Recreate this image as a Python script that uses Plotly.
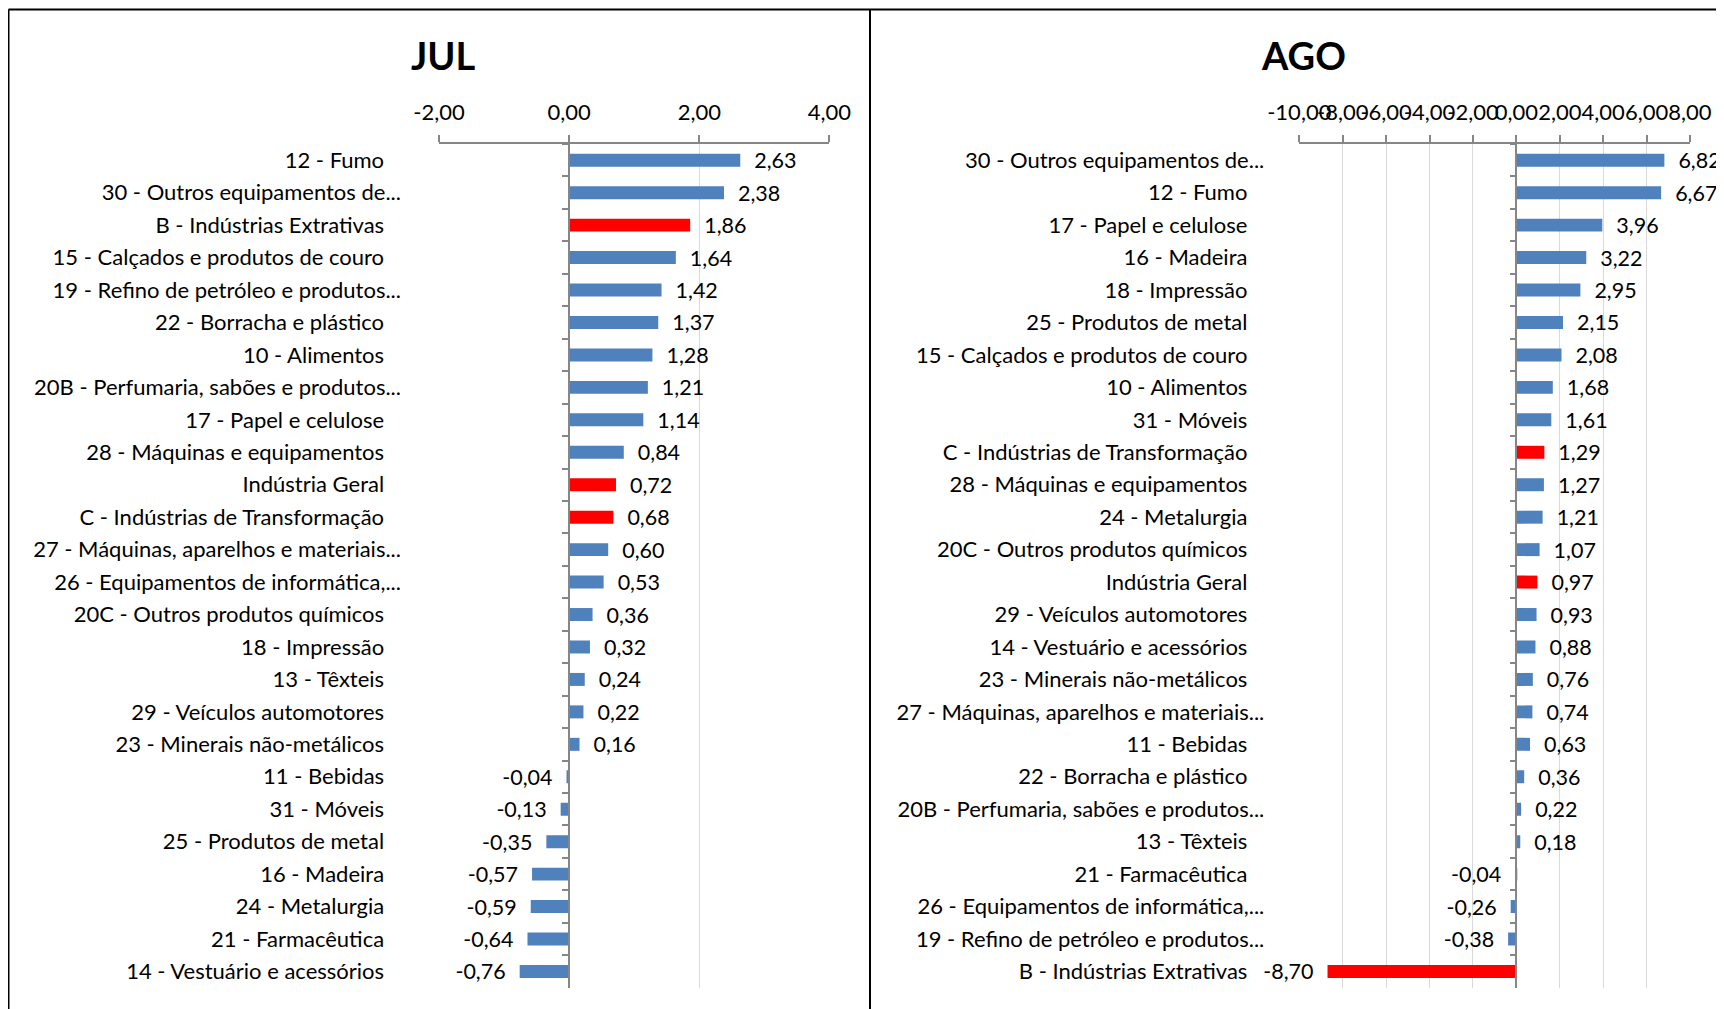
import plotly.graph_objects as go

# ---------------- data ----------------
jul_categories = [
    "12 - Fumo",
    "30 - Outros equipamentos de...",
    "B - Indústrias Extrativas",
    "15 - Calçados e produtos de couro",
    "19 - Refino de petróleo e produtos...",
    "22 - Borracha e plástico",
    "10 - Alimentos",
    "20B - Perfumaria, sabões e produtos...",
    "17 - Papel e celulose",
    "28 - Máquinas e equipamentos",
    "Indústria Geral",
    "C - Indústrias de Transformação",
    "27 - Máquinas, aparelhos e materiais...",
    "26 - Equipamentos de informática,...",
    "20C - Outros produtos químicos",
    "18 - Impressão",
    "13 - Têxteis",
    "29 - Veículos automotores",
    "23 - Minerais não-metálicos",
    "11 - Bebidas",
    "31 - Móveis",
    "25 - Produtos de metal",
    "16 - Madeira",
    "24 - Metalurgia",
    "21 - Farmacêutica",
    "14 - Vestuário e acessórios",
]
jul_values = [2.63, 2.38, 1.86, 1.64, 1.42, 1.37, 1.28, 1.21, 1.14, 0.84, 0.72, 0.68,
              0.60, 0.53, 0.36, 0.32, 0.24, 0.22, 0.16, -0.04, -0.13, -0.35, -0.57,
              -0.59, -0.64, -0.76]

ago_categories = [
    "30 - Outros equipamentos de...",
    "12 - Fumo",
    "17 - Papel e celulose",
    "16 - Madeira",
    "18 - Impressão",
    "25 - Produtos de metal",
    "15 - Calçados e produtos de couro",
    "10 - Alimentos",
    "31 - Móveis",
    "C - Indústrias de Transformação",
    "28 - Máquinas e equipamentos",
    "24 - Metalurgia",
    "20C - Outros produtos químicos",
    "Indústria Geral",
    "29 - Veículos automotores",
    "14 - Vestuário e acessórios",
    "23 - Minerais não-metálicos",
    "27 - Máquinas, aparelhos e materiais...",
    "11 - Bebidas",
    "22 - Borracha e plástico",
    "20B - Perfumaria, sabões e produtos...",
    "13 - Têxteis",
    "21 - Farmacêutica",
    "26 - Equipamentos de informática,...",
    "19 - Refino de petróleo e produtos...",
    "B - Indústrias Extrativas",
]
ago_values = [6.82, 6.67, 3.96, 3.22, 2.95, 2.15, 2.08, 1.68, 1.61, 1.29, 1.27, 1.21,
              1.07, 0.97, 0.93, 0.88, 0.76, 0.74, 0.63, 0.36, 0.22, 0.18, -0.04,
              -0.26, -0.38, -8.70]

highlight_categories = ["B - Indústrias Extrativas", "C - Indústrias de Transformação",
                        "Indústria Geral"]

jul_ticks = [-2, 0, 2, 4]
ago_ticks = [-10, -8, -6, -4, -2, 0, 2, 4, 6, 8]

# ---------------- style ----------------
W, H = 1724, 1009
OFF = 8  # page body margin compensation
BLUE = "#4F81BD"
RED = "#FF0000"
AXIS = "#868686"
GRID = "#D9D9D9"
FONT = "Lato"
NB = "\u00a0"


def fmt(v):
    return f"{v:.2f}".replace(".", ",")


def fx(p):
    return (p - OFF) / W


def fy(p):
    return 1 - (p - OFF) / H


Y_DOM = [fy(987.7), fy(144)]

panels = [
    dict(cats=jul_categories, vals=jul_values, ticks=jul_ticks, dom=(439, 829.4),
         title="JUL", tx=443.6, n="", n2="3", standoff=37),
    dict(cats=ago_categories, vals=ago_values, ticks=ago_ticks, dom=(1299.3, 1690),
         title="AGO", tx=1303, n="2", n2="4", standoff=34),
]

fig = go.Figure()
layout = dict(
    width=W, height=H, margin=dict(l=0, r=0, t=0, b=0, pad=0, autoexpand=False),
    paper_bgcolor="white", plot_bgcolor="white",
    showlegend=False, bargap=0.6, hovermode=False,
    font=dict(family=FONT, color="black", size=20),
    annotations=[], shapes=[],
)

for p in panels:
    cats, vals = p["cats"], p["vals"]
    n = len(cats)
    xa, ya, ya2 = "x" + p["n"], "y" + p["n"], "y" + p["n2"]
    colors = [RED if c in highlight_categories else BLUE for c in cats]
    texts = [(NB * 2 + fmt(v)) if v >= 0 else (fmt(v) + NB * 2) for v in vals]
    fig.add_trace(go.Bar(
        x=vals, y=cats, orientation="h", xaxis=xa, yaxis=ya,
        marker=dict(color=colors, line=dict(width=0)),
        width=0.4,
        text=texts, textposition="outside", constraintext="none", cliponaxis=False,
        textfont=dict(family=FONT, size=21.5, color="black"),
    ))
    # invisible trace carrying the boundary-tick axis at x = 0
    fig.add_trace(go.Bar(x=[0] * n, y=cats, orientation="h", xaxis=xa, yaxis=ya2,
                         marker=dict(color="rgba(0,0,0,0)"), hoverinfo="skip"))

    ticks = p["ticks"]
    r0, r1 = ticks[0], ticks[-1]
    d0, d1 = fx(p["dom"][0]), fx(p["dom"][1])
    zero_pos = d0 + (0 - r0) / (r1 - r0) * (d1 - d0)

    layout["xaxis" + p["n"]] = dict(
        domain=[d0, d1], range=[r0, r1], side="top", anchor=ya, automargin=False,
        tickvals=ticks, ticktext=[fmt(t) for t in ticks], tickangle=0,
        showline=True, linecolor=AXIS, linewidth=1.5,
        ticks="outside", ticklen=7, tickcolor=AXIS, tickwidth=1.5,
        ticklabelstandoff=6,
        showgrid=True, gridcolor=GRID, gridwidth=1, zeroline=False,
        tickfont=dict(family=FONT, size=22, color="black"),
        fixedrange=True,
    )
    padded = [c if c.endswith("...") else c + NB * 3 for c in cats]
    layout["yaxis" + p["n"]] = dict(
        domain=Y_DOM, anchor=xa, type="category", automargin=False,
        categoryorder="array", categoryarray=cats,
        range=[n - 0.5, -0.5],
        tickvals=cats, ticktext=padded,
        showline=False, ticks="", showgrid=False, zeroline=False,
        ticklabelstandoff=p["standoff"],
        tickfont=dict(family=FONT, size=22, color="black"),
        fixedrange=True,
    )
    layout["yaxis" + p["n2"]] = dict(
        domain=Y_DOM, overlaying=ya, anchor="free", position=zero_pos, side="left",
        type="category", categoryorder="array", categoryarray=cats, automargin=False,
        range=[n - 0.5, -0.5],
        showline=True, linecolor=AXIS, linewidth=1.5,
        ticks="outside", tickson="boundaries", ticklen=6, tickcolor=AXIS, tickwidth=1.5,
        showticklabels=False, showgrid=False, zeroline=False, fixedrange=True,
    )
    layout["annotations"].append(dict(
        text="<b>%s</b>" % p["title"], x=fx(p["tx"]), y=fy(55), xref="paper", yref="paper",
        xanchor="center", yanchor="middle", showarrow=False,
        font=dict(family=FONT, size=38, color="black"),
    ))

# frame lines
line = dict(color="#000000", width=2)
layout["shapes"] += [
    dict(type="line", xref="paper", yref="paper", x0=fx(8.5), x1=1, y0=fy(9.5), y1=fy(9.5), line=line),
    dict(type="line", xref="paper", yref="paper", x0=fx(8.5), x1=fx(8.5), y0=fy(9.5), y1=0, line=line),
    dict(type="line", xref="paper", yref="paper", x0=fx(870), x1=fx(870), y0=fy(9.5), y1=0, line=line),
]

fig.update_layout(**layout)
fig.write_html("out.html")
